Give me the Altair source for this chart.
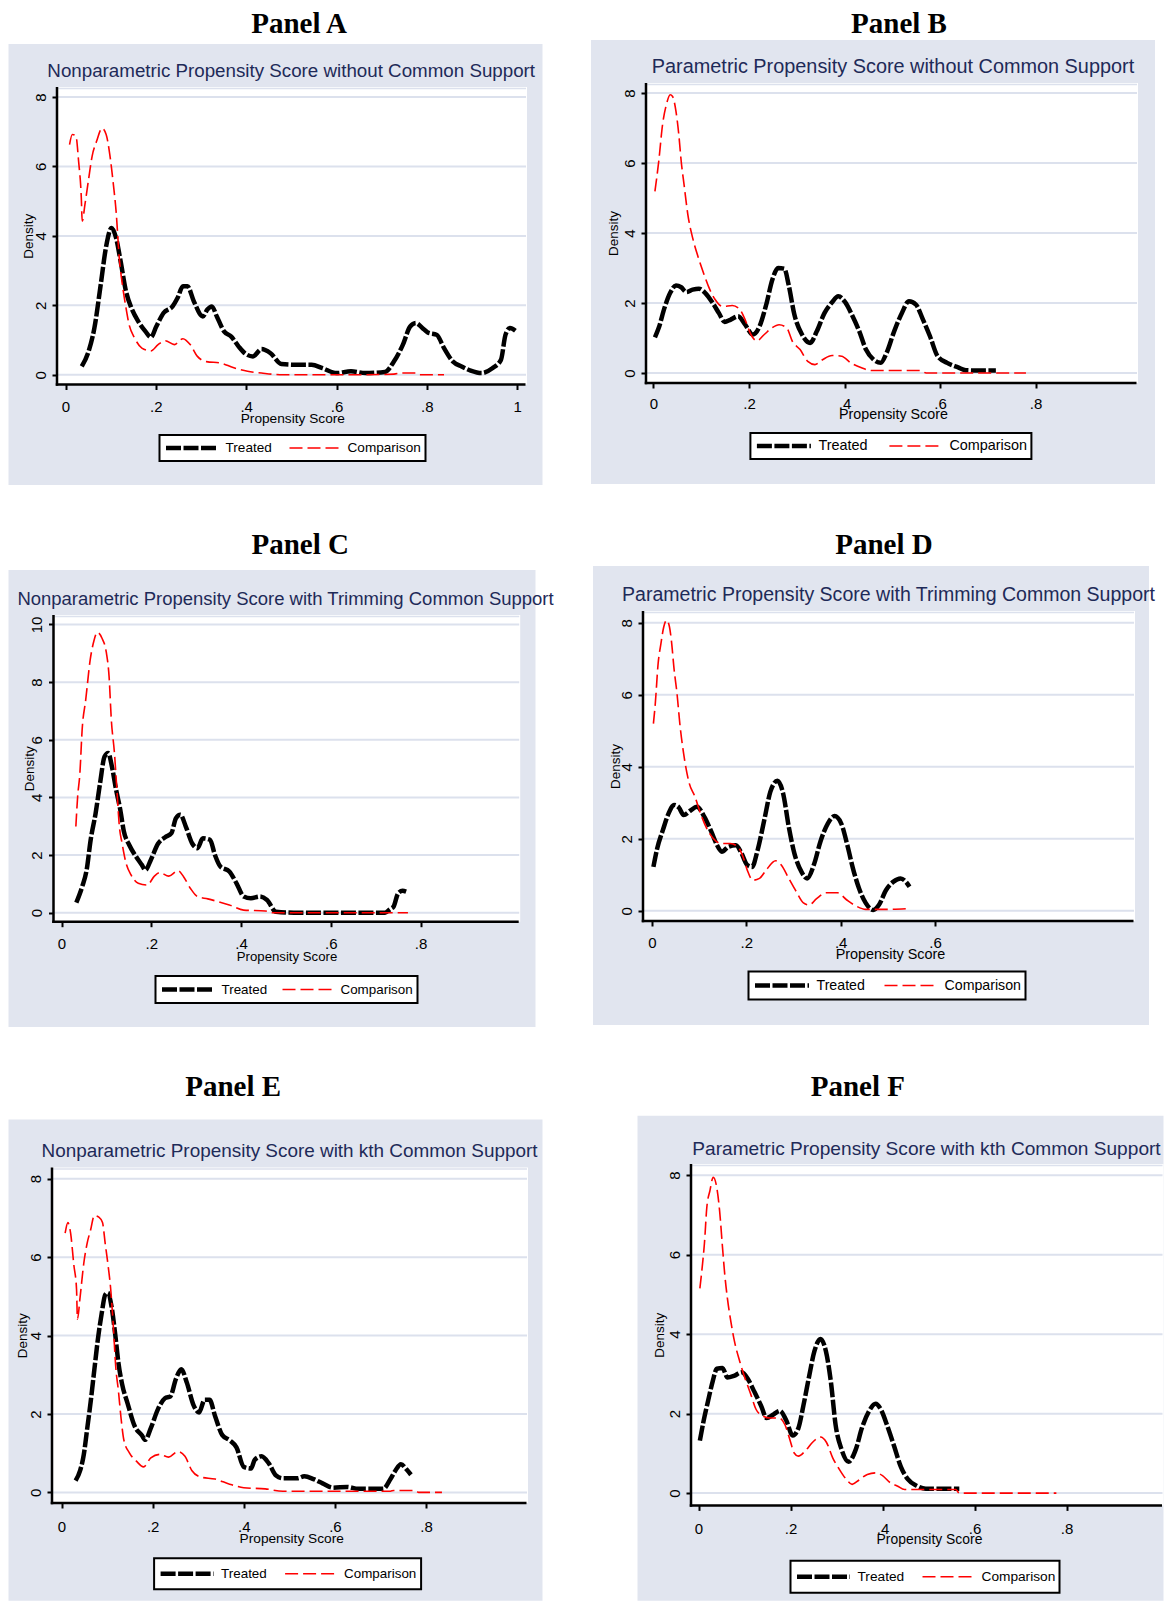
import altair as alt
import pandas as pd

# ---------------- data ----------------
SERIES = ["Treated", "Comparison"]
TITLES = ["Panel A", "Panel B", "Panel C", "Panel D", "Panel E", "Panel F"]
SUBTITLES = [
    "Nonparametric Propensity Score without Common Support",
    "Parametric Propensity Score without Common Support",
    "Nonparametric Propensity Score with Trimming Common Support",
    "Parametric Propensity Score with Trimming Common Support",
    "Nonparametric Propensity Score with kth Common Support",
    "Parametric Propensity Score with kth Common Support",
]
X_TICKS_A = [0, 0.2, 0.4, 0.6, 0.8, 1]
X_TICKS_B = [0, 0.2, 0.4, 0.6, 0.8]
X_TICKS_C = [0, 0.2, 0.4, 0.6, 0.8]
X_TICKS_D = [0, 0.2, 0.4, 0.6]
X_TICKS_E = [0, 0.2, 0.4, 0.6, 0.8]
X_TICKS_F = [0, 0.2, 0.4, 0.6, 0.8]
Y_TICKS_8 = [0, 2, 4, 6, 8]
Y_TICKS_10 = [0, 2, 4, 6, 8, 10]

A_T_X = [0.036,0.051,0.064,0.078,0.090,0.102,0.112,0.122,0.134,0.146,0.161,0.177,0.189,0.201,0.217,0.237,0.248,0.260,0.270,0.284,0.304,0.314,0.324,0.335,0.351,0.367,0.383,0.399,0.415,0.434,0.454,0.478,0.506,0.545,0.569,0.600,0.632,0.664,0.707,0.727,0.747,0.763,0.776,0.790,0.802,0.822,0.838,0.858,0.877,0.897,0.921,0.945,0.964,0.974,0.984,0.996]
A_T_Y = [0.24,0.67,1.35,2.6,3.7,4.23,3.94,3.27,2.4,1.92,1.54,1.25,1.08,1.39,1.78,1.97,2.21,2.55,2.55,2.12,1.68,1.88,1.97,1.68,1.25,1.1,0.82,0.6,0.53,0.74,0.62,0.31,0.29,0.29,0.19,0.05,0.1,0.05,0.08,0.38,0.87,1.39,1.49,1.35,1.22,1.15,0.77,0.38,0.24,0.12,0.05,0.19,0.43,1.15,1.35,1.27]
A_C_X = [0.009,0.015,0.023,0.029,0.035,0.037,0.043,0.051,0.059,0.069,0.081,0.090,0.098,0.106,0.112,0.119,0.127,0.134,0.140,0.153,0.169,0.189,0.205,0.221,0.241,0.260,0.276,0.292,0.312,0.343,0.371,0.403,0.434,0.482,0.648,0.727,0.743,0.775,0.782,0.838]
A_C_Y = [6.63,6.92,6.88,6.15,5.1,4.42,4.9,5.62,6.3,6.73,7.1,6.92,6.35,5.48,4.71,3.37,2.5,1.92,1.49,1.06,0.77,0.69,0.87,0.98,0.87,1.04,0.87,0.53,0.38,0.34,0.21,0.1,0.05,0.0,0.0,0.02,0.05,0.05,0.0,0.0]

B_T_X = [0.003,0.011,0.023,0.035,0.047,0.058,0.069,0.082,0.095,0.108,0.124,0.137,0.149,0.161,0.177,0.192,0.208,0.222,0.236,0.249,0.261,0.274,0.283,0.295,0.311,0.328,0.342,0.358,0.374,0.387,0.401,0.417,0.431,0.445,0.461,0.476,0.488,0.504,0.520,0.535,0.550,0.563,0.579,0.595,0.615,0.638,0.654,0.685,0.717]
B_T_Y = [1.02,1.29,1.86,2.29,2.5,2.45,2.31,2.38,2.41,2.29,2.0,1.71,1.46,1.52,1.62,1.38,1.1,1.33,1.95,2.67,3.0,2.98,2.52,1.67,1.1,0.86,1.19,1.71,2.02,2.19,2.03,1.62,1.19,0.67,0.38,0.29,0.57,1.19,1.71,2.05,1.95,1.57,1.05,0.48,0.29,0.16,0.08,0.07,0.07]
B_C_X = [0.003,0.011,0.019,0.027,0.035,0.040,0.047,0.053,0.058,0.064,0.072,0.082,0.094,0.106,0.118,0.129,0.145,0.165,0.181,0.192,0.204,0.216,0.232,0.248,0.263,0.279,0.291,0.307,0.323,0.338,0.354,0.374,0.394,0.413,0.437,0.457,0.504,0.559,0.571,0.780]
B_C_Y = [5.19,6.05,7.1,7.67,7.95,7.9,7.48,6.81,6.05,5.38,4.52,3.86,3.29,2.81,2.38,2.1,1.9,1.93,1.81,1.52,1.1,0.92,1.1,1.29,1.38,1.29,0.9,0.67,0.33,0.24,0.38,0.5,0.48,0.29,0.14,0.07,0.07,0.07,0.0,0.0]

C_T_X = [0.033,0.046,0.056,0.065,0.076,0.086,0.096,0.104,0.113,0.121,0.131,0.139,0.151,0.166,0.179,0.187,0.199,0.215,0.231,0.245,0.255,0.265,0.277,0.291,0.303,0.315,0.331,0.342,0.354,0.374,0.390,0.406,0.422,0.442,0.458,0.478,0.518,0.721,0.732,0.740,0.750,0.760,0.768]
C_T_Y = [0.35,0.9,1.48,2.53,3.45,4.5,5.42,5.54,5.02,4.32,3.57,2.82,2.35,1.95,1.66,1.48,1.83,2.39,2.62,2.76,3.28,3.4,2.99,2.41,2.24,2.58,2.53,2.0,1.6,1.43,1.02,0.56,0.5,0.56,0.44,0.03,0.0,0.0,0.12,0.21,0.67,0.76,0.73]
C_C_X = [0.032,0.036,0.041,0.046,0.054,0.064,0.072,0.080,0.090,0.100,0.106,0.111,0.118,0.123,0.129,0.135,0.143,0.155,0.171,0.191,0.207,0.219,0.239,0.260,0.272,0.287,0.303,0.326,0.350,0.374,0.406,0.454,0.470,0.772]
C_C_Y = [2.99,4.03,4.84,6.35,7.39,8.78,9.42,9.73,9.53,9.02,8.2,6.7,5.54,4.38,2.99,2.41,1.77,1.31,1.02,0.96,1.27,1.39,1.27,1.46,1.25,0.85,0.56,0.48,0.38,0.27,0.09,0.06,0.0,0.0]

D_T_X = [0.003,0.011,0.023,0.035,0.047,0.057,0.067,0.081,0.095,0.111,0.126,0.138,0.148,0.162,0.178,0.190,0.202,0.212,0.224,0.238,0.251,0.266,0.278,0.290,0.302,0.317,0.329,0.344,0.357,0.373,0.387,0.401,0.415,0.426,0.439,0.453,0.469,0.481,0.496,0.512,0.527,0.538,0.546]
D_T_Y = [1.22,1.73,2.24,2.7,2.94,2.87,2.66,2.78,2.89,2.61,2.19,1.82,1.64,1.78,1.82,1.59,1.27,1.22,1.69,2.52,3.31,3.61,3.26,2.33,1.59,1.08,0.9,1.31,1.92,2.43,2.63,2.43,1.78,1.18,0.62,0.22,0.02,0.16,0.57,0.81,0.9,0.81,0.67]
D_C_X = [0.003,0.007,0.013,0.019,0.025,0.031,0.037,0.041,0.047,0.053,0.059,0.067,0.079,0.091,0.103,0.116,0.130,0.146,0.166,0.182,0.193,0.202,0.214,0.228,0.242,0.262,0.274,0.290,0.306,0.321,0.333,0.349,0.369,0.393,0.413,0.433,0.453,0.496,0.540]
D_C_Y = [5.2,5.76,6.87,7.43,7.89,8.07,7.89,7.52,6.69,6.04,5.2,4.37,3.54,3.17,2.7,2.29,2.01,1.87,1.87,1.78,1.5,1.13,0.85,0.9,1.13,1.39,1.27,0.9,0.53,0.22,0.16,0.34,0.5,0.5,0.3,0.13,0.04,0.04,0.06]

E_T_X = [0.031,0.041,0.049,0.056,0.064,0.072,0.080,0.088,0.096,0.102,0.110,0.118,0.125,0.133,0.145,0.161,0.176,0.184,0.196,0.212,0.227,0.239,0.251,0.263,0.275,0.290,0.302,0.314,0.325,0.337,0.353,0.369,0.384,0.400,0.416,0.424,0.439,0.455,0.471,0.486,0.518,0.533,0.553,0.573,0.596,0.627,0.651,0.706,0.722,0.733,0.745,0.757,0.767]
E_T_Y = [0.3,0.56,0.97,1.59,2.31,3.12,3.92,4.55,5.04,5.09,4.73,4.02,3.3,2.76,2.27,1.68,1.46,1.34,1.64,2.13,2.4,2.45,2.89,3.14,2.8,2.22,2.04,2.36,2.36,1.95,1.46,1.33,1.15,0.65,0.61,0.83,0.92,0.74,0.43,0.36,0.36,0.41,0.34,0.23,0.12,0.14,0.09,0.09,0.34,0.56,0.72,0.59,0.45]
E_C_X = [0.008,0.014,0.020,0.027,0.033,0.035,0.041,0.049,0.056,0.064,0.072,0.082,0.090,0.096,0.102,0.108,0.114,0.119,0.125,0.131,0.137,0.149,0.165,0.180,0.196,0.216,0.235,0.255,0.271,0.286,0.306,0.337,0.369,0.400,0.447,0.486,0.722,0.729,0.776,0.784,0.835]
E_C_Y = [6.61,6.88,6.61,5.81,5.18,4.42,5.0,5.85,6.34,6.7,7.06,7.02,6.88,6.34,5.81,5.18,4.19,3.21,2.58,1.86,1.33,1.01,0.79,0.65,0.88,0.97,0.9,1.04,0.92,0.56,0.39,0.34,0.21,0.12,0.09,0.03,0.03,0.05,0.05,0.0,0.0]

F_T_X = [0.003,0.011,0.021,0.031,0.040,0.052,0.063,0.077,0.094,0.108,0.121,0.136,0.148,0.163,0.177,0.190,0.205,0.217,0.228,0.240,0.252,0.265,0.277,0.288,0.298,0.311,0.326,0.342,0.355,0.371,0.385,0.398,0.411,0.425,0.440,0.455,0.475,0.494,0.532,0.567]
F_T_Y = [1.32,1.81,2.33,2.82,3.13,3.15,2.91,2.95,3.04,2.86,2.56,2.2,1.89,1.98,2.07,1.85,1.45,1.63,2.2,2.91,3.57,3.88,3.57,2.78,1.72,1.1,0.79,1.1,1.63,2.07,2.25,2.07,1.67,1.19,0.66,0.35,0.18,0.11,0.11,0.11]
F_C_X = [0.003,0.008,0.013,0.018,0.025,0.032,0.040,0.046,0.052,0.057,0.063,0.071,0.078,0.090,0.102,0.113,0.125,0.140,0.155,0.175,0.188,0.198,0.208,0.217,0.232,0.248,0.265,0.278,0.292,0.305,0.321,0.334,0.349,0.367,0.386,0.400,0.417,0.432,0.448,0.502,0.559,0.567,0.778]
F_C_Y = [5.15,5.68,6.3,7.18,7.62,7.95,7.67,7.09,6.21,5.51,4.89,4.27,3.83,3.3,2.86,2.51,2.11,1.94,1.89,1.89,1.72,1.37,1.01,0.93,1.06,1.28,1.41,1.28,0.88,0.62,0.35,0.22,0.33,0.47,0.51,0.44,0.26,0.18,0.09,0.09,0.09,0.0,0.0]

# ---------------- styling / layout (page pixel coordinates) ----------------
SANS = "Liberation Sans, Arial, sans-serif"
SERIF = "Liberation Serif, Times New Roman, serif"
BG = "#e1e5ef"
GRID = "#dce1ed"
NAVY = "#1e2a58"
LBL = "datum.value == 0 ? '0' : (datum.value == 1 ? '1' : replace(format(datum.value, '.1f'), '0.', '.'))"

# plot=(axis x, white top, right, x-axis line); leg=(left, top, label size, clip height, symbol length, column pad)
LAYOUT = {
    "A": dict(cell=(8, 8, 577, 522), plot=(56.5, 87, 526.5, 384.5), xcal=(0, 65, 1, 516.7), ycal=(0, 374.8, 8, 97),
              gray=(8, 44, 542, 485), title=(298.6, 32.5), sub=(290.7, 77.3, 18.76), xt=(291.8, 422, 13.7), xlp=21.8,
              ytx=27.8, leg=(159, 435, 13.6, 18, 52, 16)),
    "B": dict(cell=(585, 8, 577, 522), plot=(645, 83, 1137, 383), xcal=(0, 652.5, 0.8, 1034.5), ycal=(0, 373, 8, 93),
              gray=(590, 40, 1154, 484), title=(898, 32.5), sub=(892, 73, 19.86), xt=(892, 418.7, 14.3), xlp=20,
              ytx=612.3, leg=(749.4, 433, 14.4, 18, 54, 20)),
    "C": dict(cell=(8, 530, 577, 532), plot=(53, 615, 519.7, 921.7), xcal=(0, 61, 0.8, 420), ycal=(0, 912.7, 10, 624.5),
              gray=(8, 570, 535, 1027), title=(299.7, 553.5), sub=(285, 605, 18.49), xt=(286, 960.2, 13.2), xlp=22,
              ytx=28.7, leg=(155, 976, 13.4, 19, 52, 14)),
    "D": dict(cell=(585, 530, 577, 532), plot=(642, 611, 1134, 921), xcal=(0, 651, 0.6, 934), ycal=(0, 910.8, 8, 622.8),
              gray=(592, 566, 1148, 1025), title=(883, 553.5), sub=(887.5, 601, 19.54), xt=(889, 958.3, 14.4), xlp=21.7,
              ytx=614, leg=(747.5, 971.5, 14.2, 20, 54, 18)),
    "E": dict(cell=(8, 1062, 577, 538), plot=(51.5, 1166.8, 527.5, 1502.3), xcal=(0, 61, 0.8, 425.5), ycal=(0, 1491.7, 8, 1178),
              gray=(8, 1118.8, 542, 1600), title=(232.6, 1095.7), sub=(289, 1156.3, 18.92), xt=(290.7, 1541.4, 13.7), xlp=23.7,
              ytx=21.9, leg=(153.6, 1557.5, 13.4, 23, 53, 17)),
    "F": dict(cell=(585, 1062, 577, 538), plot=(689.5, 1163.3, 1162, 1504.7), xcal=(0, 697, 0.8, 1065), ycal=(0, 1492.4, 8, 1174.5),
              gray=(636, 1115, 1162, 1600), title=(856.4, 1095.7), sub=(925, 1154.5, 19.12), xt=(927.5, 1543.2, 13.9), xlp=23,
              ytx=658, leg=(789, 1560, 13.7, 24, 53, 17)),
}


def make_panel(key, view_left, view_top, title, subtitle, tx, ty, cx, cy, xticks, yticks):
    L = LAYOUT[key]
    clx, cty, cw, ch = L["cell"]
    px0, wy0, x1, y1 = L["plot"]
    vx, vy = view_left, view_top
    w, h = x1 - vx, y1 - vy
    dx = px0 - vx
    v0, p0, v1, p1 = L["xcal"]
    k = (p1 - p0) / (v1 - v0)
    xdom = [v0 + (vx - p0) / k, v0 + (x1 - p0) / k]
    u0, q0, u1, q1 = L["ycal"]
    m = (q0 - q1) / (u1 - u0)
    ydom = [u0 - (y1 - q0) / m, u0 + (q0 - vy) / m]

    one = pd.DataFrame({"k": [0]})

    def box(xa, ya, xb, yb, color):
        return alt.Chart(one).mark_rect(color=color).encode(
            x=alt.value(xa - vx), x2=alt.value(xb - vx), y=alt.value(ya - vy), y2=alt.value(yb - vy))

    frame = box(clx, cty, clx + cw, cty + ch, "white")
    gray = box(*L["gray"], BG)
    white = box(px0, wy0, x1, y1, "white")
    topline = alt.Chart(one).mark_rule(color=GRID, strokeWidth=1.5).encode(
        x=alt.value(dx), x2=alt.value(w - 1), y=alt.value(wy0 - vy + 1.5))
    yline = alt.Chart(one).mark_rule(color="black", strokeWidth=2.5).encode(
        x=alt.value(dx), y=alt.value(wy0 - vy), y2=alt.value(h + 1.25))
    xline = alt.Chart(one).mark_rule(color="black", strokeWidth=2.5).encode(
        x=alt.value(dx - 1.25), x2=alt.value(w - 1.5), y=alt.value(h))

    xscale = alt.Scale(domain=xdom, nice=False, zero=False)
    yscale = alt.Scale(domain=ydom, nice=False, zero=False)

    xt_x, xt_y, xt_fs = L["xt"]
    xaxis = alt.Axis(values=xticks, labelExpr=LBL, title="Propensity Score", grid=False, zindex=1, domain=False,
                     tickColor="black", tickWidth=2, tickSize=5,
                     labelFont=SANS, labelFontSize=15, labelColor="black", labelBaseline="alphabetic",
                     labelPadding=L["xlp"], labelFlush=False, labelOverlap=False,
                     titleFont=SANS, titleFontSize=xt_fs, titleFontWeight="normal", titleColor="black",
                     titleX=xt_x - vx, titleY=xt_y - y1, titleAlign="center", titleBaseline="alphabetic")
    yaxis = alt.Axis(values=yticks, format="d", title="Density", grid=False, zindex=1, domain=False,
                     offset=-dx, tickColor="black", tickWidth=2, tickSize=5,
                     labelFont=SANS, labelFontSize=15, labelColor="black", labelAngle=270,
                     labelAlign="center", labelBaseline="middle", labelPadding=12,
                     labelFlush=False, labelOverlap=False,
                     titleFont=SANS, titleFontSize=13.5, titleFontWeight="normal", titleColor="black",
                     titleAngle=270, titleX=L["ytx"] - px0, titleY=(wy0 + y1) / 2 - vy, titleAlign="center",
                     titleBaseline="middle")

    grid = alt.Chart(pd.DataFrame({"y": yticks})).mark_rule(color=GRID, strokeWidth=2).encode(
        y=alt.Y("y:Q", scale=yscale, axis=yaxis), x=alt.value(dx), x2=alt.value(w - 1))

    lx, ly, lfs, clip, sym, cpad = L["leg"]
    leg = alt.Legend(title=None, orient="none", legendX=lx - vx, legendY=ly - vy, direction="horizontal",
                     symbolType="stroke", symbolSize=sym * sym, clipHeight=clip,
                     labelFont=SANS, labelFontSize=lfs, labelColor="black", labelOffset=5,
                     columnPadding=cpad, padding=4, strokeColor="black", fillColor="white")
    cscale = alt.Scale(domain=SERIES, range=["#000000", "#ff0000"])
    dscale = alt.Scale(domain=SERIES, range=[[15, 2.5], [13, 5]])
    wscale = alt.Scale(type="point", domain=SERIES, range=[4.5, 1.6])

    def line(xs_, ys_, name):
        df = pd.DataFrame({"x": xs_, "y": ys_, "series": name})
        return alt.Chart(df).mark_line(interpolate="monotone", strokeCap="butt", strokeJoin="round").encode(
            x=alt.X("x:Q", scale=xscale, axis=xaxis),
            y=alt.Y("y:Q", scale=yscale, axis=yaxis),
            color=alt.Color("series:N", scale=cscale, legend=leg),
            strokeDash=alt.StrokeDash("series:N", scale=dscale, legend=leg),
            strokeWidth=alt.StrokeWidth("series:N", scale=wscale, legend=leg),
        )

    t_x, t_y = L["title"]
    ttl = alt.Chart(one).mark_text(text=title, font=SERIF, fontSize=29, fontWeight="bold", color="black",
                                   align="center", baseline="alphabetic").encode(
        x=alt.value(t_x - vx), y=alt.value(t_y - vy))
    s_x, s_y, s_fs = L["sub"]
    sub = alt.Chart(one).mark_text(text=subtitle, font=SANS, fontSize=s_fs, color=NAVY,
                                   align="center", baseline="alphabetic").encode(
        x=alt.value(s_x - vx), y=alt.value(s_y - vy))

    return alt.layer(frame, gray, white, topline, grid,
                     line(tx, ty, "Treated"), line(cx, cy, "Comparison"), yline, xline,
                     ttl, sub).properties(width=w, height=h)


def top_of(a, b):
    return min(LAYOUT[a]["plot"][1], LAYOUT[b]["plot"][1])


LEFT = min(LAYOUT[k]["plot"][0] for k in ("A", "C", "E"))
V1, V2, V3 = top_of("A", "B"), top_of("C", "D"), top_of("E", "F")
pA = make_panel("A", LEFT, V1, TITLES[0], SUBTITLES[0], A_T_X, A_T_Y, A_C_X, A_C_Y, X_TICKS_A, Y_TICKS_8)
pB = make_panel("B", LAYOUT["B"]["plot"][0], V1, TITLES[1], SUBTITLES[1], B_T_X, B_T_Y, B_C_X, B_C_Y, X_TICKS_B, Y_TICKS_8)
pC = make_panel("C", LEFT, V2, TITLES[2], SUBTITLES[2], C_T_X, C_T_Y, C_C_X, C_C_Y, X_TICKS_C, Y_TICKS_10)
pD = make_panel("D", LAYOUT["D"]["plot"][0], V2, TITLES[3], SUBTITLES[3], D_T_X, D_T_Y, D_C_X, D_C_Y, X_TICKS_D, Y_TICKS_8)
pE = make_panel("E", LEFT, V3, TITLES[4], SUBTITLES[4], E_T_X, E_T_Y, E_C_X, E_C_Y, X_TICKS_E, Y_TICKS_8)
pF = make_panel("F", LAYOUT["F"]["plot"][0], V3, TITLES[5], SUBTITLES[5], F_T_X, F_T_Y, F_C_X, F_C_Y, X_TICKS_F, Y_TICKS_8)

IND = dict(color="independent", strokeDash="independent", strokeWidth="independent")


def row(a, b):
    return alt.hconcat(a, b, spacing=0).resolve_scale(**IND).resolve_legend(**IND)


chart = alt.vconcat(row(pA, pB), row(pC, pD), row(pE, pF), spacing=0) \
    .resolve_scale(**IND).resolve_legend(**IND) \
    .properties(padding=0, background="white") \
    .configure_view(strokeWidth=0) \
    .configure_legend(strokeWidth=2)

chart.save("out.html", embed_options={"renderer": "svg", "actions": False})
